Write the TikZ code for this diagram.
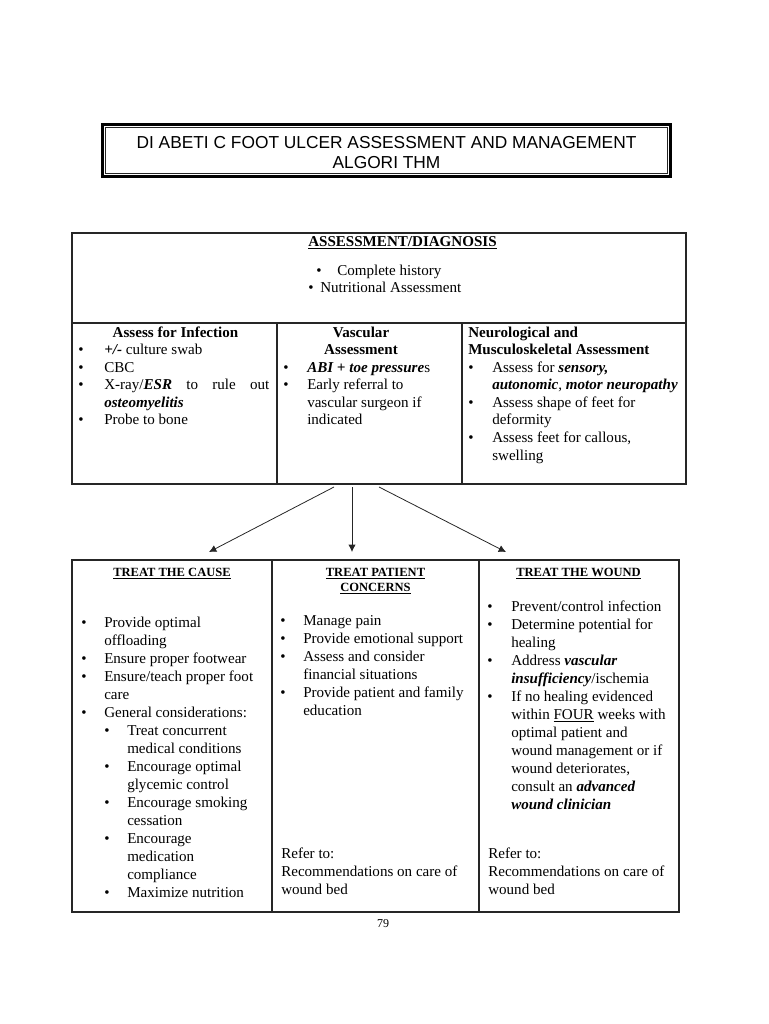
\documentclass[tikz,border=0pt]{standalone}
\usepackage{fontspec}
\setmainfont{Liberation Serif}
\newfontfamily\titlefont{Liberation Sans}
\usetikzlibrary{positioning,fit,calc,arrows.meta}
\definecolor{linecol}{rgb}{0.15,0.15,0.15}

\newlength\bw
\newcommand\bul{\makebox[\bw][l]{\textbullet}}
\newcommand\gap{\hspace*{\bw}}
\newcommand\bi[1]{\textbf{\textit{#1}}}

\begin{document}
\begin{tikzpicture}[x=0.75pt,y=-0.75pt,>={Latex[length=5.5pt,width=5.5pt]},
  cell/.style={draw=linecol,line width=0.8pt,inner sep=0pt,outer sep=0pt},
  titlebox/.style={cell,line width=1.9pt,draw=black},
  titletext/.style={inner sep=0pt,anchor=base,font=\titlefont\fontsize{13}{15}\selectfont},
  body/.style={inner sep=0pt,anchor=base west,font=\fontsize{11.3}{13.5}\selectfont},
  bodyA/.style={body,font=\fontsize{11.3}{13.2}\selectfont},
  head/.style={inner sep=0pt,anchor=base,font=\bfseries\fontsize{11.3}{13.2}\selectfont},
  treathead/.style={inner sep=0pt,anchor=base,font=\bfseries\fontsize{9.4}{11.25}\selectfont},
  flow/.style={->,line width=0.6pt,draw=linecol}]
  \useasboundingbox (0,0) rectangle (768,1024);
  %%
  % Node: title
  \node[titlebox,fit={(102.25,124.25) (670.75,176.75)}] (title) {};
  \draw[line width=0.6pt,draw=linecol] ([shift={(3,3)}]title.north west) rectangle ([shift={(-3,-3)}]title.south east);
  \node[titletext] (titlelines) at (386.5,148) {\begin{tabular}[t]{@{}c@{}}DI ABETI C FOOT ULCER ASSESSMENT AND MANAGEMENT\\ALGORI THM\end{tabular}};
  %%
  % Node: diag
  \node[cell,fit={(72,233) (686,323)}] (diag) {};
  \node[head] (diaghead) at (402.5,246) {\underline{ASSESSMENT/DIAGNOSIS}};
  \node[bodyA] (history) at (316,275) {\setlength\bw{15.75pt}\bul Complete history};
  \node[bodyA] (nutrition) at (308,292) {\setlength\bw{9pt}\bul Nutritional Assessment};
  % Node: infect
  \node[cell,fit={(72,323) (277,484)}] (infect) {};
  \node[head] (infecthead) at (175.5,337) {Assess for Infection};
  \node[bodyA] (infectlist) at (78,354.5) {\setlength\bw{19.5pt}\begin{tabular}[t]{@{}l@{}}
    \bul\bi{+/-} culture swab\\
    \bul CBC\\
    \bul\makebox[123.75pt][s]{X-ray/\bi{ESR} to rule out}\\
    \gap\bi{osteomyelitis}\\
    \bul Probe to bone
  \end{tabular}};
  % Node: vasc
  \node[cell,fit={(277,323) (462,484)}] (vasc) {};
  \node[head] (vaschead) at (361,337) {\begin{tabular}[t]{@{}c@{}}Vascular\\Assessment\end{tabular}};
  \node[bodyA] (vasclist) at (283,372) {\setlength\bw{18pt}\begin{tabular}[t]{@{}l@{}}
    \bul\bi{ABI + toe pressure}s\\
    \bul Early referral to\\
    \gap vascular surgeon if\\
    \gap indicated
  \end{tabular}};
  % Node: neuro
  \node[cell,fit={(462,323) (686,484)}] (neuro) {};
  \node[head,anchor=base west] (neurohead) at (468,337) {\begin{tabular}[t]{@{}l@{}}Neurological and\\Musculoskeletal Assessment\end{tabular}};
  \node[bodyA] (neurolist) at (468,372) {\setlength\bw{18pt}\begin{tabular}[t]{@{}l@{}}
    \bul Assess for \bi{sensory,}\\
    \gap\bi{autonomic}, \bi{motor neuropathy}\\
    \bul Assess shape of feet for\\
    \gap deformity\\
    \bul Assess feet for callous,\\
    \gap swelling
  \end{tabular}};
  %%
  % Node: cause
  \node[cell,fit={(72,560) (272,912)}] (cause) {};
  \node[treathead] (causehead) at (172,576) {\underline{TREAT THE CAUSE}};
  \node[body] (causelist) at (81,627) {\setlength\bw{17.25pt}\begin{tabular}[t]{@{}l@{}}
    \bul Provide optimal\\
    \gap offloading\\
    \bul Ensure proper footwear\\
    \bul Ensure/teach proper foot\\
    \gap care\\
    \bul General considerations:\\
    \gap\bul Treat concurrent\\
    \gap\gap medical conditions\\
    \gap\bul Encourage optimal\\
    \gap\gap glycemic control\\
    \gap\bul Encourage smoking\\
    \gap\gap cessation\\
    \gap\bul Encourage\\
    \gap\gap medication\\
    \gap\gap compliance\\
    \gap\bul Maximize nutrition
  \end{tabular}};
  % Node: concern
  \node[cell,fit={(272,560) (479,912)}] (concern) {};
  \node[treathead] (concernhead) at (375.5,576) {\begin{tabular}[t]{@{}c@{}}\underline{TREAT PATIENT}\\\underline{CONCERNS}\end{tabular}};
  \node[body] (concernlist) at (280,625) {\setlength\bw{17.25pt}\begin{tabular}[t]{@{}l@{}}
    \bul Manage pain\\
    \bul Provide emotional support\\
    \bul Assess and consider\\
    \gap financial situations\\
    \bul Provide patient and family\\
    \gap education
  \end{tabular}};
  \node[body] (concernref) at (281,858) {\begin{tabular}[t]{@{}l@{}}
    Refer to:\\
    Recommendations on care of\\
    wound bed
  \end{tabular}};
  % Node: wound
  \node[cell,fit={(479,560) (679,912)}] (wound) {};
  \node[treathead] (woundhead) at (578.5,576) {\underline{TREAT THE WOUND}};
  \node[body] (woundlist) at (487,611) {\setlength\bw{18pt}\begin{tabular}[t]{@{}l@{}}
    \bul Prevent/control infection\\
    \bul Determine potential for\\
    \gap healing\\
    \bul Address \bi{vascular}\\
    \gap\bi{insufficiency}/ischemia\\
    \bul If no healing evidenced\\
    \gap within \underline{FOUR} weeks with\\
    \gap optimal patient and\\
    \gap wound management or if\\
    \gap wound deteriorates,\\
    \gap consult an \bi{advanced}\\
    \gap\bi{wound clinician}
  \end{tabular}};
  \node[body] (woundref) at (488,858) {\begin{tabular}[t]{@{}l@{}}
    Refer to:\\
    Recommendations on care of\\
    wound bed
  \end{tabular}};
  %%
  % Edge: vasc -> cause
  \coordinate (vasc out1) at ($(vasc.south)+(-35.5,3)$);
  \coordinate (cause in) at ($(cause.north)+(37,-8)$);
  \draw[flow] (vasc out1) -- (cause in);
  % Edge: vasc -> concern
  \coordinate (vasc out2) at ($(vasc.south)+(-17.5,3)$);
  \coordinate (concern in) at ($(concern.north)+(-23.5,-8)$);
  \draw[flow] (vasc out2) -- (concern in);
  % Edge: vasc -> wound
  \coordinate (vasc out3) at ($(vasc.south)+(9.5,3)$);
  \coordinate (wound in) at ($(wound.north)+(-73,-8)$);
  \draw[flow] (vasc out3) -- (wound in);
  %%
  \node[inner sep=0pt,anchor=base,font=\fontsize{9}{10}\selectfont] (pagenum) at (383,927) {79};
\end{tikzpicture}
\end{document}
